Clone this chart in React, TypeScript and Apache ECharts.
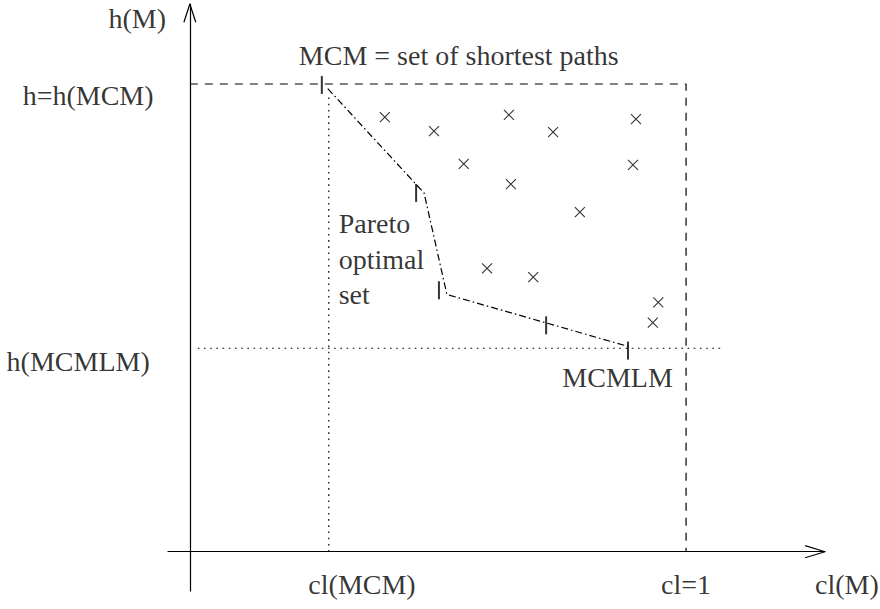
import React, { useEffect, useRef } from "react";
import * as echarts from "echarts";

// ---- data (cl on x, h on y; cl=1 and h=h(MCM)=1 are the reference levels) ----
const crossPoints: [number, number][] = [
  [0.393, 0.929], [0.492, 0.899], [0.643, 0.934], [0.732, 0.897], [0.899, 0.925],
  [0.552, 0.829], [0.647, 0.786], [0.893, 0.827], [0.786, 0.726],
  [0.599, 0.606], [0.692, 0.587], [0.944, 0.533], [0.933, 0.490],
];
const paretoFront: [number, number][] = [
  [0.278, 0.99], [0.472, 0.767], [0.518, 0.55], [0.883, 0.439],
];
const paretoTicks: [number, number][] = [
  [0.266, 0.998], [0.456, 0.767], [0.502, 0.559], [0.718, 0.484], [0.883, 0.43],
];
const clMCM = 0.28;
const hMCMLM = 0.435;
const boundingBox: [number, number][] = [[0, 1], [1, 1], [1, 0]];
const mcmGuide: [number, number][] = [[clMCM, 0], [clMCM, 0.98]];
const mcmlmGuide: [number, number][] = [[0.016, hMCMLM], [1.069, hMCMLM]];
const xArrow: [number, number][] = [[1.24, 0.013], [1.28, 0], [1.24, -0.013]];
const yArrow: [number, number][] = [[-0.012, 1.132], [0, 1.171], [0.012, 1.132]];

const labelTexts = [
  "h(M)", "h=h(MCM)", "h(MCMLM)", "MCM = set of shortest paths",
  "Pareto\noptimal\nset", "MCMLM", "cl(MCM)", "cl=1", "cl(M)",
];
const labelPositions: [number, number][] = [
  [-0.106, 1.139], [-0.205, 0.976], [-0.225, 0.407], [0.542, 1.061],
  [0.3, 0.625], [0.862, 0.373], [0.347, -0.07], [1.0, -0.07], [1.324, -0.07],
];
const labelAligns = ["center", "center", "center", "center", "left", "center", "center", "center", "center"];

const X_MIN = -0.044, X_MAX = 1.28, Y_MIN = -0.084, Y_MAX = 1.171;

export default function App() {
  const ref = useRef<HTMLDivElement>(null);
  useEffect(() => {
    if (!ref.current) return;
    const chart = echarts.init(ref.current, null, { renderer: "svg" });
    const black = "#000";
    const lineSeries = (data: [number, number][], type: any, width = 1.2) => ({
      type: "line",
      data,
      showSymbol: false,
      symbol: "none",
      silent: true,
      clip: false,
      lineStyle: { color: black, width, type },
    });
    const axisCommon = {
      type: "value",
      axisLine: { show: true, onZero: true, lineStyle: { color: black, width: 1.2 } },
      axisTick: { show: false },
      axisLabel: { show: false },
      splitLine: { show: false },
    };
    chart.setOption({
      animation: false,
      grid: { left: 168, right: 55, top: 4, bottom: 18 },
      xAxis: { ...axisCommon, min: X_MIN, max: X_MAX },
      yAxis: { ...axisCommon, min: Y_MIN, max: Y_MAX },
      series: [
        lineSeries(boundingBox, [8, 7]),
        lineSeries(mcmGuide, [1.6, 4.6]),
        lineSeries(mcmlmGuide, [1.6, 4.6]),
        lineSeries(paretoFront, [7, 3, 1.6, 3]),
        lineSeries(xArrow, "solid"),
        lineSeries(yArrow, "solid"),
        {
          type: "scatter",
          data: paretoTicks,
          symbol: "rect",
          symbolSize: [2, 18],
          silent: true,
          clip: false,
          itemStyle: { color: black },
        },
        {
          type: "scatter",
          data: crossPoints,
          symbol: "path://M0,0L10,10M10,0L0,10",
          symbolSize: 10,
          silent: true,
          itemStyle: { color: "none", borderColor: black, borderWidth: 1.1 },
        },
        {
          type: "scatter",
          symbolSize: 0,
          silent: true,
          clip: false,
          data: labelTexts.map((t, i) => ({
            value: labelPositions[i],
            label: {
              show: true,
              formatter: t,
              position: [0, 0],
              align: labelAligns[i],
              verticalAlign: "middle",
              color: black,
              fontFamily: "Liberation Serif",
              fontSize: 28,
              lineHeight: 35.5,
            },
          })),
        },
      ],
    });
    return () => chart.dispose();
  }, []);
  return (
    <div
      ref={ref}
      style={{ position: "absolute", left: 0, top: 0, width: 880, height: 609, background: "#fff" }}
    />
  );
}
